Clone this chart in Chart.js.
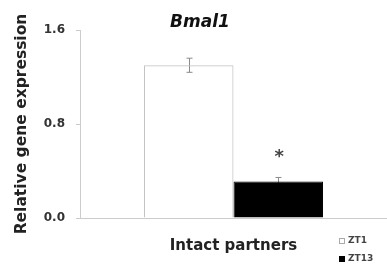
<!DOCTYPE html>
<html>
<head>
<meta charset="utf-8">
<script src="https://cdn.jsdelivr.net/npm/chart.js@4/dist/chart.umd.min.js"></script>
<style>
  html, body { margin: 0; padding: 0; background: #fff; }
  #wrap { width: 387px; height: 265px; }
</style>
</head>
<body>
<div id="wrap"><canvas id="bmalChart" width="387" height="265"></canvas></div>
<script>
const categories = ['Intact partners'];
const seriesNames = ['ZT1', 'ZT13'];
const zt1Values = [1.30];
const zt13Values = [0.31];
const zt1Errors = [0.06];
const zt13Errors = [0.035];
const yTicks = [0.0, 0.8, 1.6];
const starLabel = '*';

const FONT = 'DejaVu Sans';

// error bars go under the bars, the ZT1 bar is see-through so its lower half shows
const errorBars = {
    id: 'errorBars',
    beforeDatasetsDraw(chart) {
        const y = chart.scales.y;
        const ctx = chart.ctx;
        const errs = [zt1Errors, zt13Errors];
        ctx.save();
        ctx.strokeStyle = '#8a8a8a';
        ctx.lineWidth = 1;
        chart.data.datasets.forEach((ds, i) => {
            const meta = chart.getDatasetMeta(i);
            meta.data.forEach((bar, j) => {
                const v = ds.data[j], e = errs[i][j];
                const x = Math.round(bar.x) + 0.5;
                const top = y.getPixelForValue(v + e);
                const bot = y.getPixelForValue(v - e);
                ctx.beginPath();
                ctx.moveTo(x, top); ctx.lineTo(x, bot);
                ctx.moveTo(x - 3, top); ctx.lineTo(x + 3, top);
                ctx.moveTo(x - 3, bot); ctx.lineTo(x + 3, bot);
                ctx.stroke();
            });
        });
        ctx.restore();
    },
    afterDraw(chart) {
        const ctx = chart.ctx;
        const y = chart.scales.y;
        ctx.save();
        // title
        ctx.fillStyle = '#111';
        ctx.font = 'italic bold 17px ' + FONT;
        ctx.textAlign = 'center';
        ctx.textBaseline = 'middle';
        ctx.fillText('Bmal1', 200, 23);
        // significance star
        const bar = chart.getDatasetMeta(1).data[0];
        ctx.fillStyle = '#444';
        ctx.font = 'bold 18px ' + FONT;
        ctx.fillText(starLabel, bar.x + 1, y.getPixelForValue(zt13Values[0] + zt13Errors[0]) - 20);
        // legend
        const lx = 339;
        const rows = [{ fill: '#fff', stroke: '#aaa' }, { fill: '#000', stroke: '#000' }];
        ctx.font = 'bold 9px ' + FONT;
        ctx.textAlign = 'left';
        rows.forEach((r, i) => {
            const ly = 241 + i * 18;
            ctx.fillStyle = r.fill;
            ctx.fillRect(lx, ly - 3, 6, 6);
            ctx.strokeStyle = r.stroke;
            ctx.strokeRect(lx + 0.5, ly - 2.5, 5, 5);
            ctx.fillStyle = '#444';
            ctx.fillText(seriesNames[i], lx + 9, ly);
        });
        ctx.restore();
    }
};

const ctx = document.getElementById('bmalChart').getContext('2d');
const bmalChart = new Chart(ctx, {
    type: 'bar',
    data: {
        labels: categories,
        datasets: [{
            label: seriesNames[0],
            data: zt1Values,
            backgroundColor: 'rgba(255,255,255,0)',
            borderColor: '#c4c4c4',
            borderWidth: 1
        }, {
            label: seriesNames[1],
            data: zt13Values,
            backgroundColor: '#000',
            borderColor: '#000',
            borderWidth: 1
        }]
    },
    options: {
        responsive: false,
        animation: false,
        categoryPercentage: 0.583,
        barPercentage: 1.0,
        layout: { padding: { top: 30, left: 0, right: 0, bottom: 0 } },
        plugins: {
            legend: { display: false },
            title: { display: false },
            tooltip: { enabled: false }
        },
        scales: {
            x: {
                grid: { display: false },
                border: { display: true, color: '#cccccc' },
                ticks: { display: false },
                title: {
                    display: true,
                    text: categories[0],
                    color: '#222',
                    font: { family: FONT, size: 15, weight: 'bold' },
                    padding: { top: 0, bottom: 10 }
                },
                afterFit(scale) { scale.height = 47; }
            },
            y: {
                min: 0,
                max: 1.6,
                afterBuildTicks(scale) { scale.ticks = yTicks.map(v => ({ value: v })); },
                ticks: {
                    color: '#333',
                    font: { family: FONT, size: 12, weight: 'bold' },
                    padding: 11,
                    callback: v => v.toFixed(1)
                },
                grid: { drawOnChartArea: false, drawTicks: true, tickLength: 4, color: '#cccccc' },
                border: { display: true, color: '#cccccc' },
                title: {
                    display: true,
                    text: 'Relative gene expression',
                    color: '#222',
                    font: { family: FONT, size: 15.5, weight: 'bold' },
                    padding: { top: 13, bottom: 0 }
                },
                afterFit(scale) { scale.width = 80; }
            }
        }
    },
    plugins: [errorBars]
});
</script>
</body>
</html>
